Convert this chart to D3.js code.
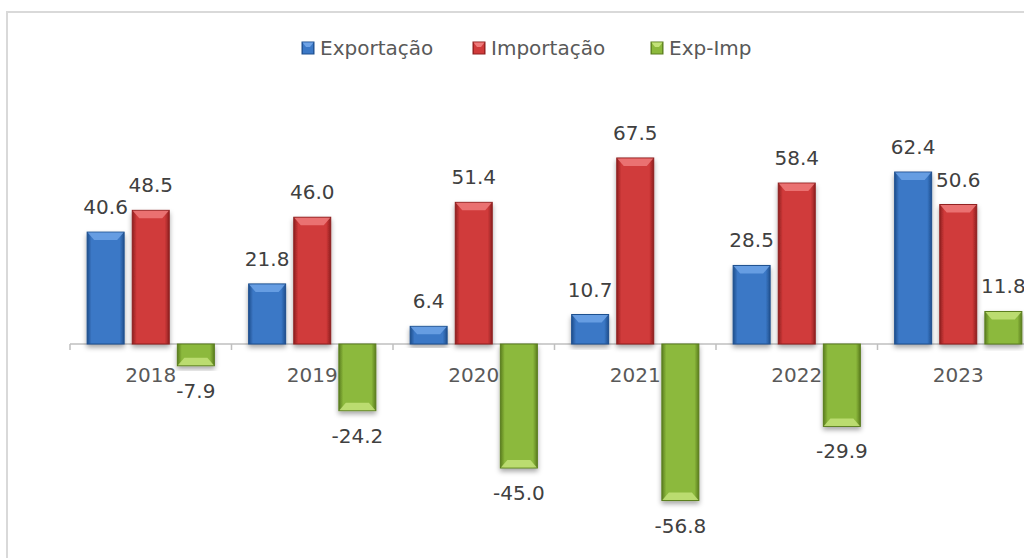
<!DOCTYPE html>
<html>
<head>
<meta charset="utf-8">
<script src="https://cdn.jsdelivr.net/npm/d3@7"></script>
<style>
	body { margin: 0; background: #ffffff; }
	svg { display: block; font-family: "DejaVu Sans", Verdana, sans-serif; }
	.data-label { fill: #404040; font-size: 20px; }
	.cat-label { fill: #595959; font-size: 20px; }
	.legend-text { fill: #595959; font-size: 20px; }
</style>
</head>
<body>
<div class="chart"></div>
<script>
var years = ["2018", "2019", "2020", "2021", "2022", "2023"];
var seriesNames = ["Exportação", "Importação", "Exp-Imp"];
var exportacao = [40.6, 21.8, 6.4, 10.7, 28.5, 62.4];
var importacao = [48.5, 46.0, 51.4, 67.5, 58.4, 50.6];
var expImp = [-7.9, -24.2, -45.0, -56.8, -29.9, 11.8];

var seriesColors = [
	{ base: "#3b78c6", light: "#6fa3e6", dark: "#1f4f8e" },
	{ base: "#d03a3a", light: "#ee7b7b", dark: "#8e1f1f" },
	{ base: "#8cb93c", light: "#c3e279", dark: "#5a7d1e" }
];

var WIDTH = 1024, HEIGHT = 558;

var svg = d3.select(".chart").append("svg")
	.attr("width", WIDTH)
	.attr("height", HEIGHT);

var defs = svg.append("defs");

var shadow = defs.append("filter")
	.attr("id", "barShadow")
	.attr("x", "-20%").attr("y", "-20%")
	.attr("width", "140%").attr("height", "140%");
shadow.append("feDropShadow")
	.attr("dx", 0).attr("dy", 3)
	.attr("stdDeviation", 2.5)
	.attr("flood-color", "#000")
	.attr("flood-opacity", 0.35);

seriesColors.forEach(function(c, i)
{
	var g = defs.append("linearGradient")
		.attr("id", "grad" + i)
		.attr("x1", "0%").attr("x2", "100%")
		.attr("y1", "0%").attr("y2", "0%");
	g.append("stop").attr("offset", "0%").attr("stop-color", c.dark);
	g.append("stop").attr("offset", "12%").attr("stop-color", c.base);
	g.append("stop").attr("offset", "50%").attr("stop-color", c.base);
	g.append("stop").attr("offset", "88%").attr("stop-color", c.base);
	g.append("stop").attr("offset", "100%").attr("stop-color", c.dark);
});

// border of the chart area (only left/top edges visible)
svg.append("rect")
	.attr("x", 7)
	.attr("y", 12)
	.attr("width", 1100)
	.attr("height", 600)
	.style("fill", "none")
	.style("stroke", "#d9d9d9")
	.style("stroke-width", 2);

var x0 = d3.scaleBand()
	.domain(years)
	.range([70, 70 + 161.5 * years.length])
	.paddingInner(0)
	.paddingOuter(0);

var x1 = d3.scaleBand()
	.domain(d3.range(seriesNames.length))
	.range([0, x0.bandwidth()])
	.paddingInner(0.18)
	.paddingOuter(0.38);

var y = d3.scaleLinear()
	.domain([-70, 80])
	.range([344 + 70 * 2.756, 344 - 80 * 2.756]);

var data = years.map(function(yr, i)
{
	return { year: yr, values: [exportacao[i], importacao[i], expImp[i]] };
});

// axis line and ticks
var xAxis = svg.append("g").attr("class", "x-axis");
xAxis.append("line")
	.attr("x1", x0.range()[0])
	.attr("x2", x0.range()[1])
	.attr("y1", y(0))
	.attr("y2", y(0))
	.style("stroke", "#bfbfbf")
	.style("stroke-width", 1.5);

var tickPositions = years.map(function(yr) { return x0(yr); });
xAxis.selectAll(".tick")
	.data(tickPositions)
	.enter().append("line")
	.attr("x1", function(d) { return d; })
	.attr("x2", function(d) { return d; })
	.attr("y1", y(0))
	.attr("y2", y(0) + 6)
	.style("stroke", "#bfbfbf")
	.style("stroke-width", 1.5);

var groups = svg.selectAll(".year-group")
	.data(data)
	.enter().append("g")
	.attr("class", "year-group")
	.attr("transform", function(d) { return "translate(" + x0(d.year) + ",0)"; });

var bars = groups.selectAll(".bar")
	.data(function(d) { return d.values.map(function(v, i) { return { value: v, s: i }; }); })
	.enter().append("g")
	.attr("class", "bar");

bars.append("rect")
	.attr("x", function(d) { return x1(d.s); })
	.attr("y", function(d) { return Math.min(y(d.value), y(0)); })
	.attr("width", x1.bandwidth())
	.attr("height", function(d) { return Math.abs(y(d.value) - y(0)); })
	.style("fill", function(d) { return "url(#grad" + d.s + ")"; })
	.style("stroke", function(d) { return seriesColors[d.s].dark; })
	.style("stroke-width", 1)
	.attr("filter", "url(#barShadow)");

// bevel at the end of each bar
bars.append("path")
	.attr("d", function(d)
	{
		var bx = x1(d.s), bw = x1.bandwidth();
		var end = y(d.value);
		var h = Math.abs(y(d.value) - y(0));
		var depth = Math.min(8, h / 2);
		var dir = d.value >= 0 ? 1 : -1;
		var inset = 7;
		return "M" + (bx + 0.5) + "," + (end + 0.5 * dir)
			+ "L" + (bx + bw - 0.5) + "," + (end + 0.5 * dir)
			+ "L" + (bx + bw - inset) + "," + (end + depth * dir)
			+ "L" + (bx + inset) + "," + (end + depth * dir) + "Z";
	})
	.style("fill", function(d) { return seriesColors[d.s].light; })
	.style("opacity", 0.85);

bars.append("text")
	.attr("class", "data-label")
	.attr("text-anchor", "middle")
	.attr("x", function(d) { return x1(d.s) + x1.bandwidth() / 2; })
	.attr("y", function(d) { return d.value >= 0 ? y(d.value) - 18 : y(d.value) + 32; })
	.text(function(d) { return d.value.toFixed(1); });

groups.append("text")
	.attr("class", "cat-label")
	.attr("text-anchor", "middle")
	.attr("x", x0.bandwidth() / 2)
	.attr("y", y(0) + 38)
	.text(function(d) { return d.year; });

// legend
var legendX = [302, 473, 651];
var legend = svg.selectAll(".legend-item")
	.data(seriesNames)
	.enter().append("g")
	.attr("class", "legend-item")
	.attr("transform", function(d, i) { return "translate(" + legendX[i] + ",42)"; });

legend.append("rect")
	.attr("width", 12)
	.attr("height", 12)
	.style("fill", function(d, i) { return "url(#grad" + i + ")"; })
	.style("stroke", function(d, i) { return seriesColors[i].dark; })
	.style("stroke-width", 1);

legend.append("path")
	.attr("d", "M0.5,0.5L11.5,0.5L8,5L4,5Z")
	.style("fill", function(d, i) { return seriesColors[i].light; });

legend.append("text")
	.attr("class", "legend-text")
	.attr("x", 18)
	.attr("y", 13)
	.text(function(d) { return d; });
</script>
</body>
</html>
